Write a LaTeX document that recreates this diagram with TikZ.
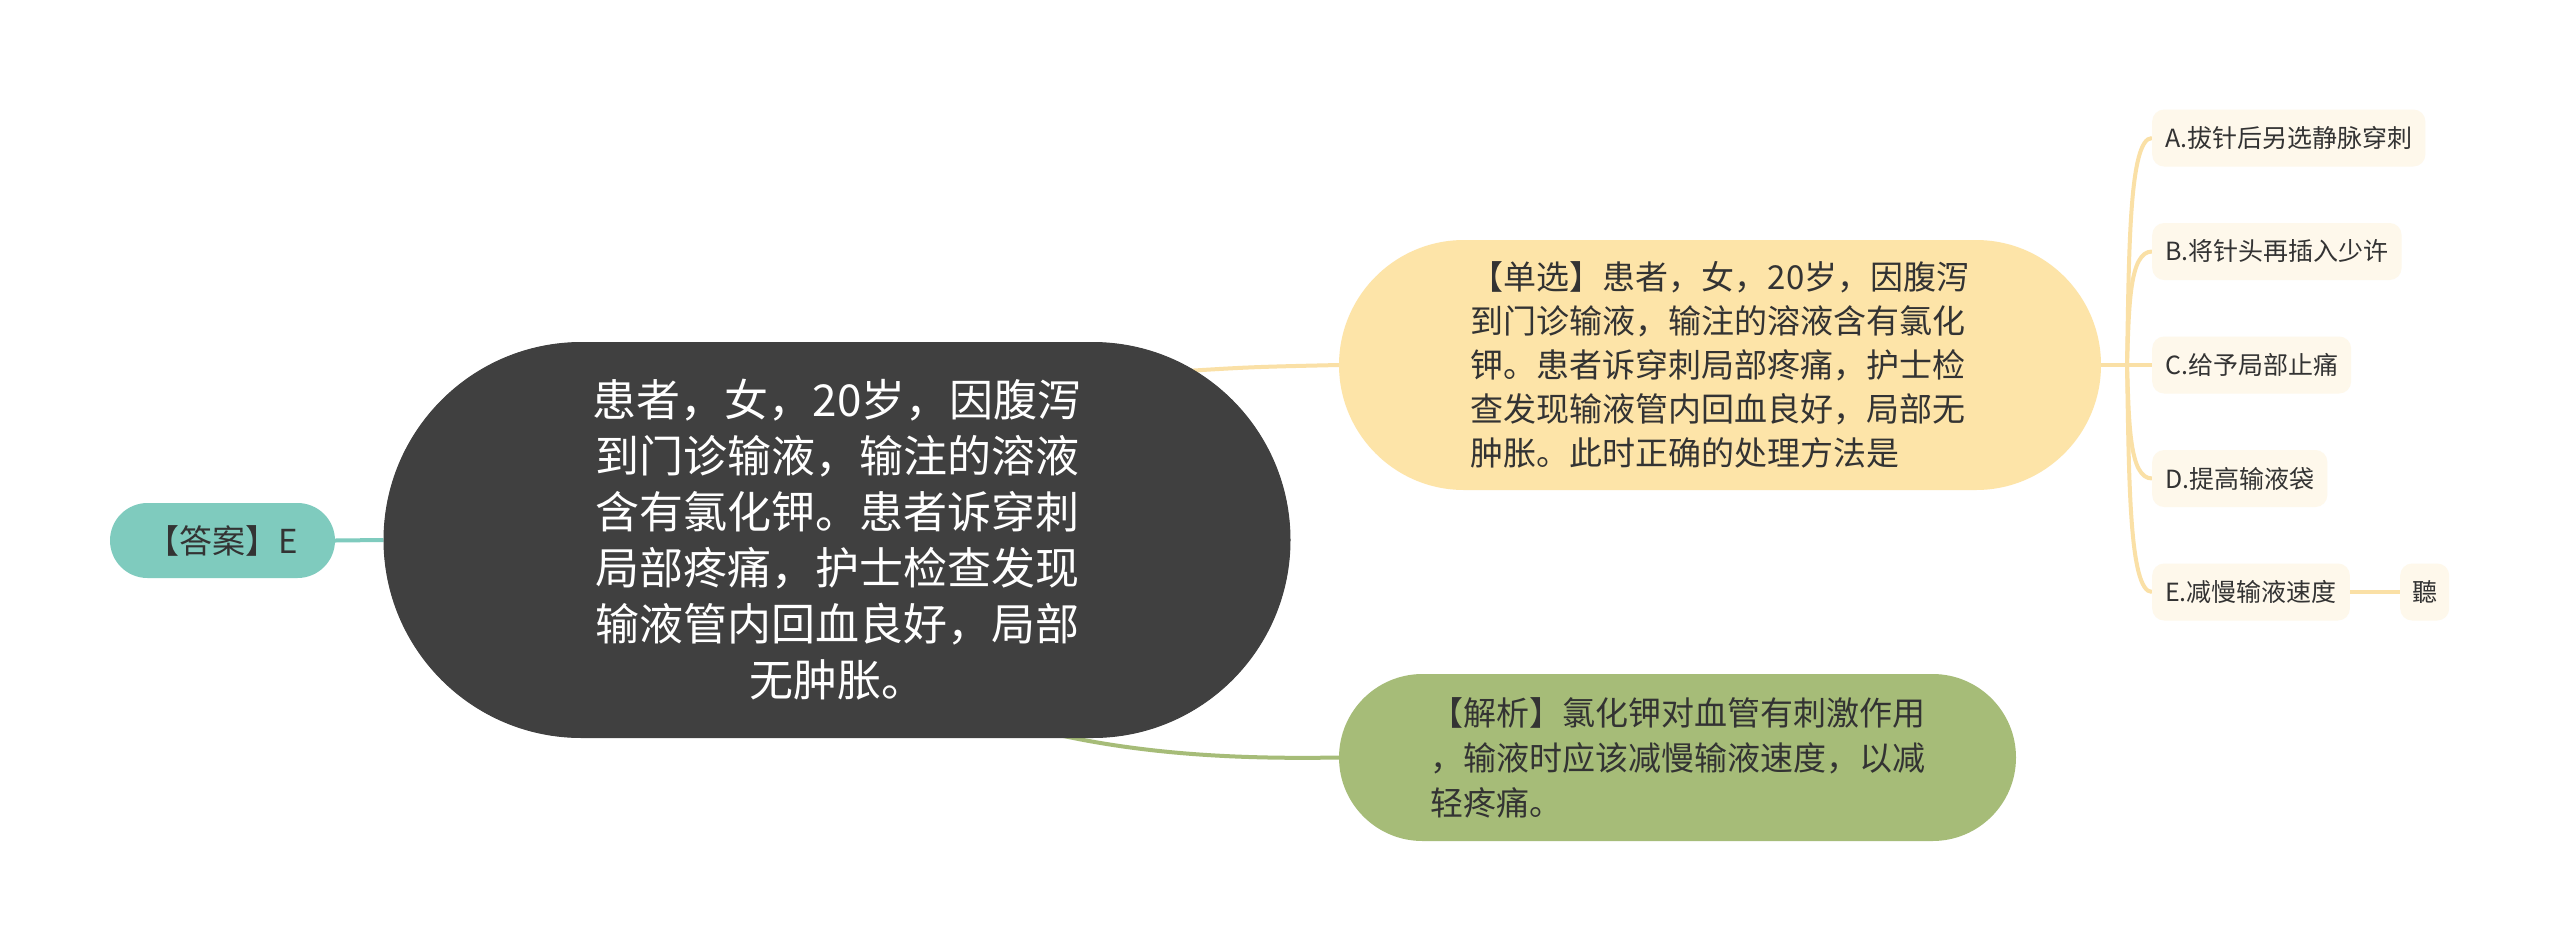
\documentclass[tikz,border=0pt]{standalone}
\usepackage{fontspec}
\setmainfont{Noto Sans CJK SC}
\usetikzlibrary{shapes.misc,backgrounds}
\definecolor{centralc}{HTML}{404040}
\definecolor{answerc}{HTML}{7FCBBE}
\definecolor{questc}{HTML}{FDE4A8}
\definecolor{qline}{HTML}{FAE0A6}
\definecolor{anac}{HTML}{A6BC78}
\definecolor{optc}{HTML}{FEF8EB}
\definecolor{txt}{HTML}{333333}
\tikzset{
  capsule/.style={rounded rectangle, inner sep=0pt, text=txt},
  optbox/.style={rectangle, rounded corners=12pt, fill=optc, text=txt, anchor=west,
    inner xsep=13pt, inner ysep=0pt, minimum height=57pt, font=\fontsize{25}{30}\selectfont},
  yline/.style={draw=qline, line width=4pt},
  gline/.style={draw=anac, line width=4pt},
  tline/.style={draw=answerc, line width=4pt}
}
\begin{document}
\begin{tikzpicture}[x=1pt,y=-1pt]
\useasboundingbox (0,0) rectangle (2560,951);

\node[capsule, fill=centralc, draw=black!75, line width=1pt, minimum width=906pt, minimum height=395pt,
  text=white, font=\fontsize{44}{56}\selectfont, align=center] (central) at (837,540)
  {患者，女，20岁，因腹泻\\到门诊输液，输注的溶液\\含有氯化钾。患者诉穿刺\\局部疼痛，护士检查发现\\输液管内回血良好，局部\\无肿胀。};

\node[capsule, fill=answerc, minimum width=225pt, minimum height=75pt,
  font=\fontsize{33}{40}\selectfont] (answer) at (222.5,540.5) {【答案】E};

\node[capsule, fill=questc, minimum width=762pt, minimum height=250pt,
  font=\fontsize{33}{44}\selectfont, align=left] (question) at (1720,365)
  {【单选】患者，女，20岁，因腹泻\\到门诊输液，输注的溶液含有氯化\\钾。患者诉穿刺局部疼痛，护士检\\查发现输液管内回血良好，局部无\\肿胀。此时正确的处理方法是};

\node[capsule, fill=anac, minimum width=677pt, minimum height=167pt,
  font=\fontsize{33}{45}\selectfont, align=left] (analysis) at (1677.5,757.5)
  {【解析】氯化钾对血管有刺激作用\\，输液时应该减慢输液速度，以减\\轻疼痛。};

\node[optbox] (optA) at (2152,138) {A.拔针后另选静脉穿刺};
\node[optbox] (optB) at (2152,251.5) {B.将针头再插入少许};
\node[optbox] (optC) at (2152,365) {C.给予局部止痛};
\node[optbox] (optD) at (2152,478.5) {D.提高输液袋};
\node[optbox] (optE) at (2152,592) {E.减慢输液速度};
\node[optbox, inner xsep=12pt] (optF) at (2400,592) {聽};

\coordinate (cq) at (1170,372);
\coordinate (ca) at (1050,733);
\coordinate (trunk) at (2127,365);

\begin{pgfonlayer}{background}
\fill[white] (0,0) rectangle (2560,951);
\draw[tline] (answer.east) -- (central.west);
\draw[yline] (cq) .. controls (1250,367) .. (question.west);
\draw[gline] (ca) .. controls (1150,756) and (1250,759) .. (analysis.west);
\draw[yline] (question.east) -- (optC.west);
\draw[yline] (trunk) .. controls (2129,251) and (2129,138) .. (optA.west);
\draw[yline] (trunk) .. controls (2129,308) and (2129,251.5) .. (optB.west);
\draw[yline] (trunk) .. controls (2129,422) and (2129,478.5) .. (optD.west);
\draw[yline] (trunk) .. controls (2129,478) and (2129,592) .. (optE.west);
\draw[yline] (optE.east) -- (optF.west);
\end{pgfonlayer}
\end{tikzpicture}
\end{document}
